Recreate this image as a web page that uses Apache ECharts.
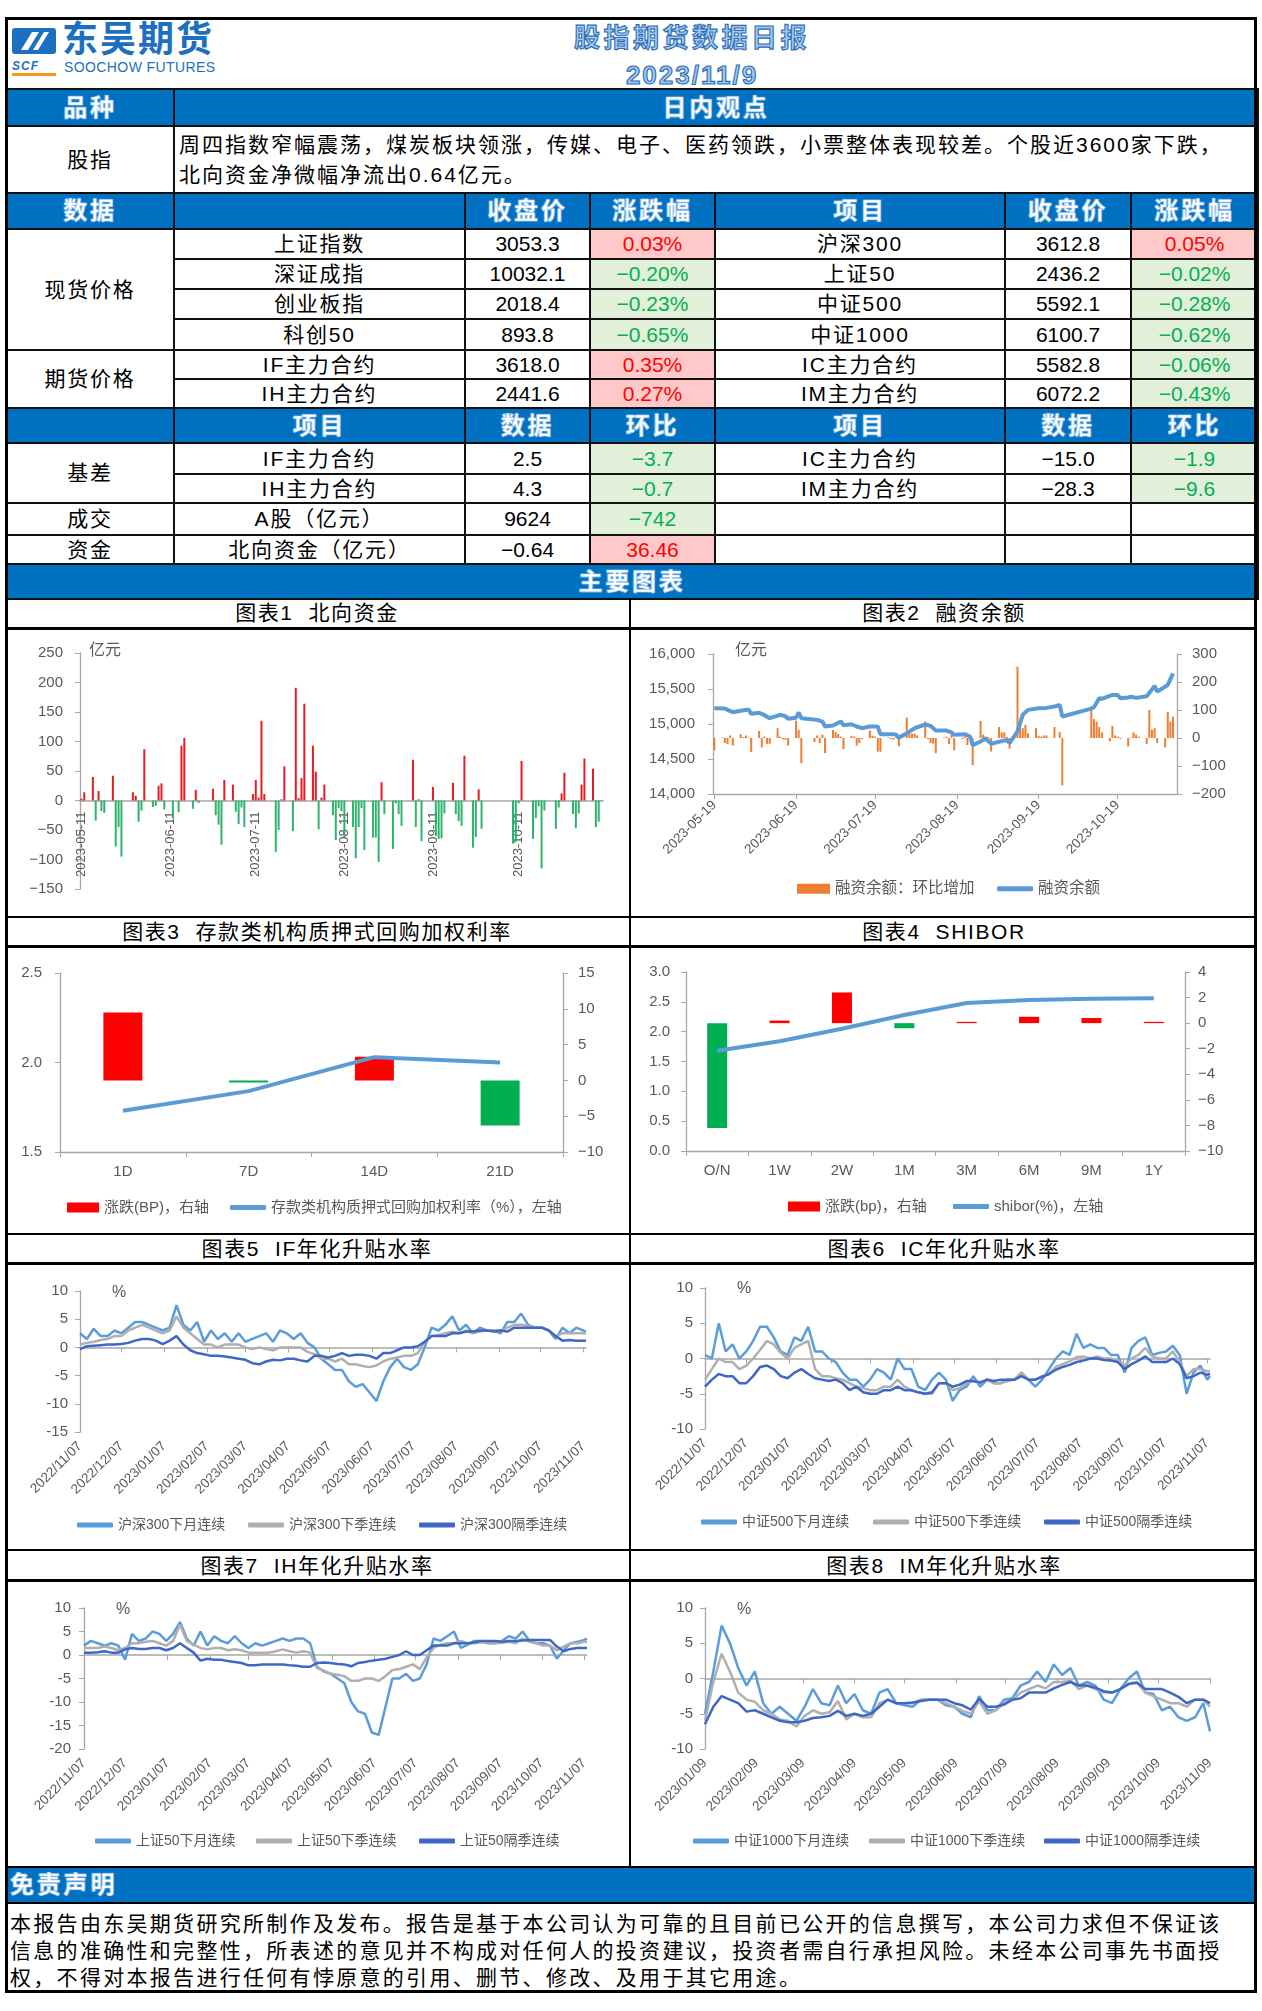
<!DOCTYPE html>
<html lang="zh-CN">
<head>
<meta charset="utf-8">
<title>股指期货数据日报</title>
<script src="https://cdn.jsdelivr.net/npm/echarts@6/dist/echarts.min.js"></script>
<style>
  html, body { margin: 0; padding: 0; background: #fff; }
  #page { position: relative; width: 1262px; height: 2011px; overflow: hidden; background: #fff;
          font-family: "Liberation Sans", "Noto Sans CJK SC", sans-serif; color: #000; }
  .abs { position: absolute; white-space: nowrap; }
  .blk { position: absolute; background: #000; }
  .hdr { color: #fff; font-weight: 700; font-size: 24px; line-height: 26px; letter-spacing: 2.8px;
         -webkit-text-stroke: 0.6px #a9cdee; text-shadow: 0 0 2px #6fb0ea; }
  table { position: absolute; left: 5px; top: 88px; width: 1252px; border-collapse: collapse; table-layout: fixed; }
  td { border: 2px solid #111; padding: 0; text-align: center; vertical-align: middle; white-space: nowrap;
       overflow: hidden; font-size: 21px; line-height: 22px; }
  td.cn { letter-spacing: 1.8px; }
  td.view { text-align: left; padding-left: 4px; letter-spacing: 2px; line-height: 30px; }
  tr.blue td { background: #0070c0; }
  td.up { background: #ffc9c9; color: #ff0000; }
  td.dn { background: #e2f0d9; color: #00b050; }
  .ttl { position: absolute; height: 28px; line-height: 28px; text-align: center; font-size: 21px; letter-spacing: 1.6px; }
  .chart { position: absolute; }
  .title { color: #a3c8ec; font-weight: 700; -webkit-text-stroke: 1.1px #2a6cb6; text-align: center; }
</style>
</head>
<body>
<div id="page">
  <!-- 抬头 -->
  <svg class="abs" style="left:12px;top:28px" width="44" height="26" viewBox="0 0 44 26">
    <rect x="0" y="0" width="44" height="26" rx="3" fill="#1c6fc1"/>
    <path d="M9 22 L20 4 L27 4 L16 22 Z" fill="#fff"/>
    <path d="M21 22 L32 4 L37 4 L26 22 Z" fill="#fff"/>
  </svg>
  <div class="abs" style="left:62px;top:22px;font-size:36px;line-height:36px;font-weight:700;color:#1c6fc1;letter-spacing:2px;">东吴期货</div>
  <div class="abs" style="left:12px;top:60px;font-size:12px;line-height:13px;font-weight:700;font-style:italic;color:#1c6fc1;letter-spacing:1px;">SCF</div>
  <div class="abs" style="left:12px;top:73px;width:44px;height:3px;background:#f39a1e;"></div>
  <div class="abs" style="left:64px;top:60px;font-size:14px;line-height:15px;color:#1c6fc1;letter-spacing:0.4px;">SOOCHOW FUTURES</div>
  <div class="abs title" style="left:492px;top:21px;width:400px;font-size:26px;line-height:34px;letter-spacing:3.5px;">股指期货数据日报</div>
  <div class="abs title" style="left:492px;top:58px;width:400px;font-size:26px;line-height:34px;letter-spacing:2px;">2023/11/9</div>

  <table id="tbl"></table>

  <!-- 主要图表区 -->
  <div class="ttl" style="left:5px;top:599px;width:624px;">图表1&nbsp;&nbsp;北向资金</div>
  <div class="ttl" style="left:631px;top:599px;width:626px;">图表2&nbsp;&nbsp;融资余额</div>
  <div class="ttl" style="left:5px;top:918px;width:624px;">图表3&nbsp;&nbsp;存款类机构质押式回购加权利率</div>
  <div class="ttl" style="left:631px;top:918px;width:626px;">图表4&nbsp;&nbsp;SHIBOR</div>
  <div class="ttl" style="left:5px;top:1235px;width:624px;">图表5&nbsp;&nbsp;IF年化升贴水率</div>
  <div class="ttl" style="left:631px;top:1235px;width:626px;">图表6&nbsp;&nbsp;IC年化升贴水率</div>
  <div class="ttl" style="left:5px;top:1552px;width:624px;">图表7&nbsp;&nbsp;IH年化升贴水率</div>
  <div class="ttl" style="left:631px;top:1552px;width:626px;">图表8&nbsp;&nbsp;IM年化升贴水率</div>

  <div class="chart" id="c1" style="left:8px;top:631px;width:620px;height:285px;"></div>
  <div class="chart" id="c2" style="left:632px;top:631px;width:622px;height:285px;"></div>
  <div class="chart" id="c3" style="left:8px;top:949px;width:620px;height:284px;"></div>
  <div class="chart" id="c4" style="left:632px;top:949px;width:622px;height:284px;"></div>
  <div class="chart" id="c5" style="left:8px;top:1265px;width:620px;height:284px;"></div>
  <div class="chart" id="c6" style="left:632px;top:1265px;width:622px;height:284px;"></div>
  <div class="chart" id="c7" style="left:8px;top:1582px;width:620px;height:284px;"></div>
  <div class="chart" id="c8" style="left:632px;top:1582px;width:622px;height:284px;"></div>

  <div class="blk" style="left:629px;top:598px;width:2px;height:1270px;"></div>
  <div class="blk" style="left:5px;top:627px;width:1252px;height:3px;"></div>
  <div class="blk" style="left:5px;top:916px;width:1252px;height:2px;"></div>
  <div class="blk" style="left:5px;top:945px;width:1252px;height:3px;"></div>
  <div class="blk" style="left:5px;top:1233px;width:1252px;height:2px;"></div>
  <div class="blk" style="left:5px;top:1262px;width:1252px;height:3px;"></div>
  <div class="blk" style="left:5px;top:1549px;width:1252px;height:2px;"></div>
  <div class="blk" style="left:5px;top:1579px;width:1252px;height:3px;"></div>
  <div class="blk" style="left:5px;top:1866px;width:1252px;height:2px;"></div>

  <!-- 免责声明 -->
  <div class="abs" style="left:5px;top:1868px;width:1252px;height:34px;background:#0070c0;"></div>
  <div class="abs hdr" style="left:10px;top:1872px;">免责声明</div>
  <div class="blk" style="left:5px;top:1902px;width:1252px;height:2px;"></div>
  <div class="abs" id="disc" style="left:10px;top:1910px;font-size:21px;line-height:27px;letter-spacing:2.3px;"></div>

  <div class="abs" style="left:5px;top:17px;width:1252px;height:1976px;border:3px solid #000;box-sizing:border-box;"></div>
</div>

<script>
// ---------------- 表格数据 ----------------
const viewLines = ['周四指数窄幅震荡，煤炭板块领涨，传媒、电子、医药领跌，小票整体表现较差。个股近3600家下跌，',
                   '北向资金净微幅净流出0.64亿元。'];
const spotRows = [
    ['上证指数', '3053.3', '0.03%', '沪深300', '3612.8', '0.05%'],
    ['深证成指', '10032.1', '-0.20%', '上证50', '2436.2', '-0.02%'],
    ['创业板指', '2018.4', '-0.23%', '中证500', '5592.1', '-0.28%'],
    ['科创50', '893.8', '-0.65%', '中证1000', '6100.7', '-0.62%']
];
const futRows = [
    ['IF主力合约', '3618.0', '0.35%', 'IC主力合约', '5582.8', '-0.06%'],
    ['IH主力合约', '2441.6', '0.27%', 'IM主力合约', '6072.2', '-0.43%']
];
const basisRows = [
    ['IF主力合约', '2.5', '-3.7', 'IC主力合约', '-15.0', '-1.9'],
    ['IH主力合约', '4.3', '-0.7', 'IM主力合约', '-28.3', '-9.6']
];
const turnoverRow = ['A股（亿元）', '9624', '-742'];
const fundRow = ['北向资金（亿元）', '-0.64', '36.46'];
const disclaimer = ['本报告由东吴期货研究所制作及发布。报告是基于本公司认为可靠的且目前已公开的信息撰写，本公司力求但不保证该',
                    '信息的准确性和完整性，所表述的意见并不构成对任何人的投资建议，投资者需自行承担风险。未经本公司事先书面授',
                    '权，不得对本报告进行任何有悖原意的引用、删节、修改、及用于其它用途。'];

// ---------------- 图表1 北向资金（亿元） ----------------
const northFlow = [
    ['2023-05-11', 3], ['2023-05-12', 14], ['2023-05-15', 40], ['2023-05-16', -34], ['2023-05-17', 16], ['2023-05-18', -18], ['2023-05-19', -21],
    ['2023-05-22', 42], ['2023-05-23', -78], ['2023-05-24', -45], ['2023-05-25', -95],
    ['2023-05-29', 14], ['2023-05-30', 8], ['2023-05-31', -36], ['2023-06-01', -17], ['2023-06-02', 87],
    ['2023-06-05', -11], ['2023-06-06', -9], ['2023-06-07', 25], ['2023-06-08', 29], ['2023-06-09', -15],
    ['2023-06-12', -30], ['2023-06-14', -20], ['2023-06-15', 93], ['2023-06-16', 106],
    ['2023-06-19', -14], ['2023-06-20', 18], ['2023-06-21', -4],
    ['2023-06-26', 20], ['2023-06-27', -25], ['2023-06-28', -41], ['2023-06-29', -75], ['2023-06-30', 35],
    ['2023-07-03', 27], ['2023-07-04', -19], ['2023-07-05', -40], ['2023-07-06', -12], ['2023-07-07', -45],
    ['2023-07-10', 11], ['2023-07-11', 35], ['2023-07-12', 5], ['2023-07-13', 135], ['2023-07-14', 11],
    ['2023-07-18', -87], ['2023-07-19', -50], ['2023-07-20', 2], ['2023-07-21', 58],
    ['2023-07-24', -52], ['2023-07-25', 191], ['2023-07-26', 4], ['2023-07-27', 38], ['2023-07-28', 164],
    ['2023-07-31', 93], ['2023-08-01', 49], ['2023-08-02', -49], ['2023-08-03', 5], ['2023-08-04', 27],
    ['2023-08-07', -25], ['2023-08-08', -67], ['2023-08-09', -13], ['2023-08-10', -18], ['2023-08-11', -62],
    ['2023-08-14', -45], ['2023-08-15', -98], ['2023-08-16', -45], ['2023-08-17', -13], ['2023-08-18', -84],
    ['2023-08-21', -63], ['2023-08-22', -63], ['2023-08-23', -104], ['2023-08-24', 31], ['2023-08-25', -23],
    ['2023-08-28', -82], ['2023-08-29', -5], ['2023-08-30', -23], ['2023-08-31', -43],
    ['2023-09-04', 69], ['2023-09-05', -45], ['2023-09-06', 2], ['2023-09-07', -69],
    ['2023-09-11', 23], ['2023-09-12', -60], ['2023-09-13', -65], ['2023-09-14', -64], ['2023-09-15', -22],
    ['2023-09-18', 30], ['2023-09-19', -23], ['2023-09-20', -35], ['2023-09-21', -43], ['2023-09-22', 76],
    ['2023-09-25', -80], ['2023-09-26', -62], ['2023-09-27', 19], ['2023-09-28', -48],
    ['2023-10-09', -73], ['2023-10-10', -70], ['2023-10-11', -5], ['2023-10-12', 67],
    ['2023-10-16', -65], ['2023-10-17', -30], ['2023-10-18', -10], ['2023-10-19', -115], ['2023-10-20', -17],
    ['2023-10-24', -48], ['2023-10-25', -12], ['2023-10-26', 12], ['2023-10-27', 47],
    ['2023-10-30', -23], ['2023-10-31', -47], ['2023-11-01', -22], ['2023-11-02', 27], ['2023-11-03', 71],
    ['2023-11-06', 54], ['2023-11-07', -45], ['2023-11-08', -36], ['2023-11-09', -0.64]
];

// ---------------- 图表2 融资余额 ----------------
const marginChange = [
    ['2023-05-19', -44], ['2023-05-22', 2], ['2023-05-23', -18], ['2023-05-24', -22], ['2023-05-25', 9], ['2023-05-26', -27],
    ['2023-05-29', 14], ['2023-05-30', 3], ['2023-05-31', 9], ['2023-06-01', 2], ['2023-06-02', -50],
    ['2023-06-05', 25], ['2023-06-06', -34], ['2023-06-07', 5], ['2023-06-08', -21], ['2023-06-09', -21],
    ['2023-06-12', 35], ['2023-06-13', 5], ['2023-06-14', -4], ['2023-06-15', -6], ['2023-06-16', -27],
    ['2023-06-19', 62], ['2023-06-20', 29], ['2023-06-21', -90],
    ['2023-06-26', -15], ['2023-06-27', 9], ['2023-06-28', -18], ['2023-06-29', 12], ['2023-06-30', -54],
    ['2023-07-03', 29], ['2023-07-04', 21], ['2023-07-05', 14], ['2023-07-06', 5], ['2023-07-07', -40],
    ['2023-07-10', 8], ['2023-07-11', 5], ['2023-07-12', -27], ['2023-07-13', -18], ['2023-07-14', -4],
    ['2023-07-17', 27], ['2023-07-18', 8], ['2023-07-19', 5], ['2023-07-20', -49], ['2023-07-21', -49],
    ['2023-07-24', 2], ['2023-07-25', -4], ['2023-07-26', -6], ['2023-07-27', 5], ['2023-07-28', -30],
    ['2023-07-31', 73], ['2023-08-01', 17], ['2023-08-02', 15], ['2023-08-03', 15], ['2023-08-04', 9],
    ['2023-08-07', 59], ['2023-08-08', -4], ['2023-08-09', -18], ['2023-08-10', -20], ['2023-08-11', -54],
    ['2023-08-14', 2], ['2023-08-15', 5], ['2023-08-16', -22], ['2023-08-17', 12], ['2023-08-18', -44],
    ['2023-08-21', -4], ['2023-08-22', 5], ['2023-08-23', -25], ['2023-08-24', 2], ['2023-08-25', -97],
    ['2023-08-28', 61], ['2023-08-29', 12], ['2023-08-30', 5], ['2023-08-31', 3], ['2023-09-01', -48],
    ['2023-09-04', 39], ['2023-09-05', 20], ['2023-09-06', 20], ['2023-09-07', 4], ['2023-09-08', -38],
    ['2023-09-11', 255], ['2023-09-12', 47], ['2023-09-13', 35], ['2023-09-14', 47], ['2023-09-15', 17],
    ['2023-09-18', 35], ['2023-09-19', 8], ['2023-09-20', 5], ['2023-09-21', 9], ['2023-09-22', 9],
    ['2023-09-25', 39], ['2023-09-26', 0], ['2023-09-27', 21], ['2023-09-28', -169],
    ['2023-10-09', 100], ['2023-10-10', 68], ['2023-10-11', 58], ['2023-10-12', 39], ['2023-10-13', 20],
    ['2023-10-16', -12], ['2023-10-17', 43], ['2023-10-18', 9], ['2023-10-19', 5], ['2023-10-20', -4],
    ['2023-10-23', -30], ['2023-10-24', 2], ['2023-10-25', 20], ['2023-10-26', 12], ['2023-10-27', 5],
    ['2023-10-30', -22], ['2023-10-31', 100], ['2023-11-01', 30], ['2023-11-02', 35], ['2023-11-03', -18],
    ['2023-11-06', -34], ['2023-11-07', 93], ['2023-11-08', 58], ['2023-11-09', 76]
];
const marginBalance = [
    ['2023-05-19', 15226], ['2023-05-23', 15221], ['2023-05-24', 15202], ['2023-05-26', 15169], ['2023-05-29', 15188],
    ['2023-06-01', 15207], ['2023-06-02', 15145], ['2023-06-05', 15160], ['2023-06-07', 15126], ['2023-06-09', 15083],
    ['2023-06-13', 15130], ['2023-06-15', 15110], ['2023-06-16', 15075], ['2023-06-19', 15090], ['2023-06-20', 15164],
    ['2023-06-21', 15083], ['2023-06-27', 15059], ['2023-06-29', 15035], ['2023-06-30', 14964], ['2023-07-03', 14978],
    ['2023-07-06', 15036], ['2023-07-07', 14983], ['2023-07-10', 14997], ['2023-07-12', 14964], ['2023-07-14', 14940],
    ['2023-07-17', 14964], ['2023-07-20', 14964], ['2023-07-21', 14855], ['2023-07-26', 14855], ['2023-07-27', 14845],
    ['2023-07-28', 14803], ['2023-07-31', 14869], ['2023-08-03', 14940], ['2023-08-07', 14993], ['2023-08-09', 14974],
    ['2023-08-11', 14907], ['2023-08-15', 14907], ['2023-08-17', 14880], ['2023-08-18', 14845], ['2023-08-22', 14855],
    ['2023-08-24', 14822], ['2023-08-25', 14698], ['2023-08-28', 14750], ['2023-08-30', 14793], ['2023-09-01', 14717],
    ['2023-09-07', 14774], ['2023-09-08', 14727], ['2023-09-11', 14893], ['2023-09-13', 15131], ['2023-09-15', 15202],
    ['2023-09-19', 15226], ['2023-09-22', 15230], ['2023-09-25', 15249], ['2023-09-27', 15273], ['2023-09-28', 15107],
    ['2023-10-09', 15220], ['2023-10-10', 15240], ['2023-10-12', 15368], ['2023-10-13', 15360], ['2023-10-17', 15416],
    ['2023-10-19', 15416], ['2023-10-20', 15368], ['2023-10-23', 15380], ['2023-10-24', 15390], ['2023-10-26', 15373],
    ['2023-10-30', 15395], ['2023-11-02', 15544], ['2023-11-03', 15463], ['2023-11-07', 15558], ['2023-11-09', 15724]
];

// ---------------- 图表3 存款类机构质押式回购加权利率 ----------------
const repoTerms = ['1D', '7D', '14D', '21D'];
const repoChangeBP = [9.5, -0.3, 3.3, -6.3];
const repoRate = [1.73, 1.84, 2.03, 2.00];

// ---------------- 图表4 SHIBOR ----------------
const shiborTerms = ['O/N', '1W', '2W', '1M', '3M', '6M', '9M', '1Y'];
const shiborChangeBP = [-8.2, 0.2, 2.4, -0.4, 0.1, 0.5, 0.4, 0.1];
const shiborRate = [1.68, 1.84, 2.05, 2.28, 2.48, 2.53, 2.55, 2.56];

// ---------------- 图表5-7 年化升贴水率（2022/11/07 - 2023/11/09） ----------------
const basisDates = ['2022/11/07', '2022/11/12', '2022/11/17', '2022/11/22', '2022/11/27', '2022/12/02', '2022/12/07', '2022/12/12',
    '2022/12/17', '2022/12/22', '2022/12/27', '2023/01/01', '2023/01/06', '2023/01/11', '2023/01/16', '2023/01/21', '2023/01/26',
    '2023/01/31', '2023/02/05', '2023/02/10', '2023/02/15', '2023/02/20', '2023/02/25', '2023/03/02', '2023/03/07', '2023/03/12',
    '2023/03/17', '2023/03/22', '2023/03/27', '2023/04/01', '2023/04/06', '2023/04/11', '2023/04/16', '2023/04/21', '2023/04/26',
    '2023/05/01', '2023/05/06', '2023/05/11', '2023/05/16', '2023/05/21', '2023/05/26', '2023/05/31', '2023/06/05', '2023/06/10',
    '2023/06/15', '2023/06/20', '2023/06/25', '2023/06/30', '2023/07/05', '2023/07/10', '2023/07/15', '2023/07/20', '2023/07/25',
    '2023/07/30', '2023/08/04', '2023/08/09', '2023/08/14', '2023/08/19', '2023/08/24', '2023/08/29', '2023/09/03', '2023/09/08',
    '2023/09/13', '2023/09/18', '2023/09/23', '2023/09/28', '2023/10/03', '2023/10/08', '2023/10/13', '2023/10/18', '2023/10/23',
    '2023/10/28', '2023/11/02', '2023/11/07', '2023/11/09'];

const ifNextMonth = [2.5, 1.5, 3.3, 2.0, 2.0, 3.0, 2.5, 3.5, 4.5, 4.5, 4.0, 3.5, 3.0, 3.5, 7.5, 4.0, 3.0, 4.5, 1.0, 3.0,
    1.5, 2.5, 1.0, 2.5, 1.0, 1.5, 2.0, 2.5, 1.0, 3.0, 2.5, 1.5, 2.5, 0.8, 0.0, -2.0, -3.0, -4.0, -4.0, -6.0,
    -7.0, -6.5, -8.0, -9.5, -6.0, -3.5, -2.0, -3.5, -4.0, -3.0, 0.0, 3.5, 3.0, 4.0, 5.5, 3.0, 4.0, 2.5, 3.5, 3.0,
    3.0, 2.5, 4.5, 4.5, 6.0, 4.0, 3.5, 3.5, 3.0, 1.5, 3.5, 2.5, 3.5, 3.0, 2.8];
const ifNextQuarter = [0.5, 0.8, 1.0, 1.3, 1.5, 2.0, 2.0, 3.0, 3.5, 4.0, 3.5, 3.0, 2.5, 3.0, 5.5, 3.5, 2.5, 1.5, 0.5, 0.5,
    0.0, 0.5, 0.5, 0.5, 0.0, -0.3, 0.0, -0.3, -0.5, 0.0, 0.0, 0.0, 0.0, -0.8, -1.2, -2.0, -2.0, -2.5, -2.0, -3.0,
    -3.0, -3.3, -3.5, -3.2, -2.5, -2.0, -1.8, -1.5, -1.5, -1.0, 1.0, 2.0, 2.2, 2.5, 2.8, 2.5, 3.0, 2.5, 2.8, 3.0,
    3.0, 3.0, 3.5, 4.0, 4.0, 3.8, 3.5, 3.5, 3.0, 2.0, 2.5, 2.5, 2.5, 2.5, 2.5];
const ifFarQuarter = [-0.3, 0.2, 0.3, 0.4, 0.5, 0.5, 0.6, 0.8, 1.2, 1.5, 1.5, 1.2, 0.6, 1.2, 2.0, 0.5, -0.5, -1.0, -1.2, -1.5,
    -1.5, -1.6, -1.8, -2.0, -2.2, -2.8, -3.0, -2.5, -2.2, -2.3, -2.0, -2.0, -2.3, -2.5, -1.5, -1.5, -1.8, -1.5, -1.0, -1.5,
    -1.3, -1.3, -1.5, -2.0, -1.0, -1.0, -0.5, 0.0, 0.0, 0.2, 1.0, 2.0, 2.0, 2.0, 2.5, 2.5, 2.8, 2.8, 3.0, 3.0,
    2.8, 3.0, 2.8, 3.5, 3.5, 3.5, 3.5, 3.5, 3.0, 2.0, 1.2, 1.3, 1.2, 1.2, 1.2];

const icNextMonth = [0.5, 0, 5, 1, 2, 0, 1, 2.5, 4.5, 4.5, 3, 1, 0.5, 3, 2.5, 4.5, 1, 1, 0, -0.5,
    -2, -3, -3, -4, -3, -1.5, -2, -3, 0, -1.5, -1.5, -4, -4.5, -3, -2, -3, -6, -4.5, -4, -2.5,
    -4, -3, -3.5, -3.5, -3, -3, -2, -3, -4, -3, -1.5, 0, 1, 0.5, 3.5, 1.5, 2, 1.5, 1.5, 0.5,
    0.5, -2, 1.5, 2.5, 3, 0.5, 0.8, 1, 1.8, 0.5, -5, -2, -1, -3, -2.5];
const icNextQuarter = [-3, -1.5, 0, -0.5, -0.5, -1.5, -1, 0, 1.2, 2.5, 2, 0.8, 0, 1.5, 2, 2.5, -1.5, -2.5, -2.5, -2.8,
    -3, -3.5, -4, -4.2, -4.5, -4.5, -4, -4, -3, -4, -4.5, -4.8, -5, -5, -3.5, -3.5, -4.5, -4.2, -3.5, -3.2,
    -3.5, -3, -3.5, -3.5, -3.2, -3, -2, -3, -3, -2.5, -2.2, -1.2, -0.8, -0.4, 0.2, 0.3, 0, 0.3, 0, 0,
    -0.3, -1, 0, 0.5, 1.5, 0.3, 0, 0, 1, -0.5, -2.5, -1.5, -1.5, -1.8, -1.8];
const icFarQuarter = [-4, -3, -2.2, -2.5, -2.5, -3.5, -3.5, -2.5, -1.2, -1, -1.5, -2.5, -2.8, -2, -1.5, -2.2, -2.8, -3, -3.2, -3,
    -3.5, -4.5, -4, -4.8, -5, -5, -4.5, -4.5, -4, -4.5, -4.5, -4.8, -5, -4.8, -3.5, -3.5, -4, -3.7, -3.2, -3.2,
    -3.4, -3, -3.2, -3, -3, -3, -2.5, -3, -3, -2.6, -2.2, -1.6, -1.2, -0.9, -0.5, -0.3, 0, 0, -0.2, -0.3,
    -0.5, -1.5, -0.8, -0.3, 0.3, -0.5, -0.5, -0.5, 0, -0.8, -2.8, -2.5, -2, -2.3, -2.2];

const ihNextMonth = [2, 3, 2.5, 2, 2.5, 2, -1, 4.5, 3, 3.5, 5, 4.5, 3, 4.5, 7, 3.5, 2, 5, 2, 4,
    3, 2.5, 4, 2.5, 1.5, 2.5, 2, 2.5, 3, 3.5, 3, 3.5, 3.5, 2.5, -2.5, -3.5, -4, -5, -6, -10,
    -12, -12.5, -16.5, -17, -11, -5, -5, -4, -5.5, -5, -2, 3.5, 3, 4, 5, 1.5, 2.2, 3, 3, 2.5,
    2.5, 3, 4, 3.5, 5, 3, 2.5, 2.5, 2, -0.8, 1, 2.5, 2.8, 3.2, 3.5];
const ihNextQuarter = [1.5, 1.5, 1.5, 1.8, 1.5, 1, 1.5, 2.5, 2.5, 2.8, 3, 2.5, 2, 3, 6.5, 3, 2.2, 1.5, 1.2, 1.5,
    1.5, 1, 1.2, 1, 0.5, 0.5, 0.5, 0.5, 0.8, 1.2, 0.8, 0.5, 0.8, 0.5, -2.8, -3.3, -4, -4.2, -4.5, -5.5,
    -5.5, -5, -5, -5.5, -4.5, -3.2, -3, -2.5, -2, -3, -0.5, 1.5, 2.2, 2.5, 2.5, 3, 2.5, 2.5, 2.7, 2.5,
    2.5, 2.6, 2.8, 2.5, 3.5, 2.8, 2.5, 2, 2, 1, 1.8, 2.5, 2.5, 2.8, 2.8];
const ihFarQuarter = [0.5, 0.5, 0.6, 0.8, 0.5, 0.5, 1.2, 1.5, 1.3, 1.3, 1.5, 1.5, 1, 1.5, 2.5, 1.5, 0.5, -1.2, -0.8, -1,
    -1, -1.3, -1.5, -1.7, -2.2, -2.2, -2, -2, -2, -2, -2.2, -2.3, -2.5, -2.5, -1.7, -1.6, -1.7, -1.9, -2, -2.4,
    -1.7, -1.5, -1.2, -1, -0.8, -0.4, 0, 0.8, 0, 0, 1, 2, 2, 2, 2.5, 2.5, 2.5, 2.7, 3, 3,
    3, 2.8, 3, 3, 3.1, 3.2, 3.2, 3.2, 3.2, 1.8, 0.8, 1.3, 1.5, 1.5, 1.5];

// ---------------- 图表8 IM年化升贴水率（2023/01/09 - 2023/11/09） ----------------
const imDates = ['2023/01/09', '2023/01/14', '2023/01/19', '2023/01/24', '2023/01/29', '2023/02/03', '2023/02/08', '2023/02/13',
    '2023/02/18', '2023/02/23', '2023/02/28', '2023/03/05', '2023/03/10', '2023/03/15', '2023/03/20', '2023/03/25', '2023/03/30',
    '2023/04/04', '2023/04/09', '2023/04/14', '2023/04/19', '2023/04/24', '2023/04/29', '2023/05/04', '2023/05/09', '2023/05/14',
    '2023/05/19', '2023/05/24', '2023/05/29', '2023/06/03', '2023/06/08', '2023/06/13', '2023/06/18', '2023/06/23', '2023/06/28',
    '2023/07/03', '2023/07/08', '2023/07/13', '2023/07/18', '2023/07/23', '2023/07/28', '2023/08/02', '2023/08/07', '2023/08/12',
    '2023/08/17', '2023/08/22', '2023/08/27', '2023/09/01', '2023/09/06', '2023/09/11', '2023/09/16', '2023/09/21', '2023/09/26',
    '2023/10/01', '2023/10/06', '2023/10/11', '2023/10/16', '2023/10/21', '2023/10/26', '2023/10/31', '2023/11/05', '2023/11/09'];
const imNextMonth = [-5, 1, 7.5, 5, 1.5, -1, 1, -3.5, -5, -4, -5, -6, -4, -1.5, -3.5, -3.8, -1, -3.5, -2.2, -4.5,
    -5, -2, -1.5, -3.5, -3.8, -4, -3, -3, -3, -3.8, -4, -5, -5.5, -2.5, -4.5, -4.5, -3, -2.8, -1, -0.5,
    1, -0.5, 2, 0.5, 1.5, -1, -0.5, -1, -3, -3.5, -1.5, 0, 1, -2, -2.2, -4.5, -4, -5.5, -6, -5.5, -3.5, -7.5];
const imNextQuarter = [-6, -0.5, 3.5, 1, -2, -3, -3.3, -4.5, -5, -5.8, -6, -6.8, -5.3, -4.5, -5, -4.8, -3.2, -5.8, -5, -5.5,
    -5.5, -3.5, -3, -3.5, -3.5, -3.5, -3, -3, -3, -3.5, -4, -4.6, -5, -3.2, -5, -4.5, -3.5, -3, -2, -1.5,
    -1, -1.4, -0.5, -0.5, -0.3, -1.5, -1, -1.5, -2, -2, -1.5, -0.7, -0.5, -2, -2.5, -3, -3.5, -3.5, -4, -3, -3, -4];
const imFarQuarter = [-6.5, -4, -2.5, -3, -3.5, -4.7, -4.5, -5, -5.5, -6, -6.2, -6.2, -6, -5.6, -5.5, -5.3, -4.6, -5.3, -5, -5.3,
    -5, -4, -3, -3.5, -3.5, -3.4, -3.2, -3, -3, -3, -3.5, -3.8, -4.4, -2.9, -4, -4, -3.7, -3, -2.8, -2,
    -2, -2, -1.4, -0.9, -0.5, -1, -1, -1.3, -1.8, -2, -1.5, -0.8, -0.6, -1.5, -1.5, -1.5, -2, -2.6, -3.5, -3, -3, -3.5];

// ---------------- 表格 ----------------
const rowH = [37, 67, 36, 30, 30, 30, 31, 29, 29, 35, 31, 29, 32, 29, 35];
let rowNo = 0;
const neg = s => s.replace('-', '−');
const tr = (cls, inner) => `<tr class="${cls}" style="height:${rowH[rowNo++]}px">${inner}</tr>`;
const hc = t => `<td><span class="hdr">${t}</span></td>`;
const chg = s => `<td class="${s.startsWith('-') ? 'dn' : 'up'}">${neg(s)}</td>`;
const dataRow = (r, lead) => tr('', (lead || '') + `<td class="cn">${r[0]}</td><td>${neg(r[1])}</td>${chg(r[2])}` +
    `<td class="cn">${r[3]}</td><td>${neg(r[4])}</td>${chg(r[5])}`);

let html = '<colgroup><col style="width:168px"><col style="width:291px"><col style="width:125px"><col style="width:125px">' +
    '<col style="width:290px"><col style="width:126px"><col style="width:127px"></colgroup>';
html += tr('blue', hc('品种') + '<td colspan="6"><span class="hdr">日内观点</span></td>');
html += tr('', `<td class="cn">股指</td><td colspan="6" class="view">${viewLines.join('<br>')}</td>`);
html += tr('blue', ['数据', '', '收盘价', '涨跌幅', '项目', '收盘价', '涨跌幅'].map(hc).join(''));
spotRows.forEach((r, i) => { html += dataRow(r, i === 0 ? '<td rowspan="4" class="cn">现货价格</td>' : ''); });
futRows.forEach((r, i) => { html += dataRow(r, i === 0 ? '<td rowspan="2" class="cn">期货价格</td>' : ''); });
html += tr('blue', ['', '项目', '数据', '环比', '项目', '数据', '环比'].map(hc).join(''));
basisRows.forEach((r, i) => { html += dataRow(r, i === 0 ? '<td rowspan="2" class="cn">基差</td>' : ''); });
html += tr('', `<td class="cn">成交</td><td class="cn">${turnoverRow[0]}</td><td>${neg(turnoverRow[1])}</td>${chg(turnoverRow[2])}<td></td><td></td><td></td>`);
html += tr('', `<td class="cn">资金</td><td class="cn">${fundRow[0]}</td><td>${neg(fundRow[1])}</td>${chg(fundRow[2])}<td></td><td></td><td></td>`);
html += tr('blue', '<td colspan="7"><span class="hdr">主要图表</span></td>');
document.getElementById('tbl').innerHTML = html;
document.getElementById('disc').innerHTML = disclaimer.join('<br>');

// ---------------- 图表 ----------------
const FONT = '"Liberation Sans", "Noto Sans CJK SC", sans-serif';
const GRAY = '#595959';
const AXIS_C = '#a6a6a6';
const LINE_COLORS = ['#5a9ddb', '#afafaf', '#3f67c6'];

// 日历日序列（作为类目轴）
function dayAxis(start, end, sep) {
    const out = [];
    const d = new Date(start + 'T00:00:00Z');
    const e = new Date(end + 'T00:00:00Z');
    while (d <= e) {
        const m = String(d.getUTCMonth() + 1).padStart(2, '0');
        const dd = String(d.getUTCDate()).padStart(2, '0');
        out.push(d.getUTCFullYear() + sep + m + sep + dd);
        d.setUTCDate(d.getUTCDate() + 1);
    }
    return out;
}
const minus = v => String(v).replace('-', '−');
const valueAxis = (extra) => Object.assign({
    type: 'value', splitLine: {show: false},
    axisLine: {show: true, lineStyle: {color: AXIS_C, width: 1.3}},
    axisTick: {show: true, length: 5, lineStyle: {color: AXIS_C}},
    axisLabel: {fontSize: 15, color: GRAY, fontFamily: FONT}
}, extra);
const legendAt = (name, left, top, w, h, icon, fs) => ({
    data: [{name: name, icon: icon}], left: left, top: top, itemWidth: w, itemHeight: h, itemGap: 0,
    textStyle: {fontSize: fs, color: GRAY, fontFamily: FONT}
});
function mk(id, opt) {
    const c = echarts.init(document.getElementById(id), null, {renderer: 'canvas'});
    c.setOption(Object.assign({animation: false, textStyle: {fontFamily: FONT}}, opt));
}

// 图表1：标签画在图内底部，零轴另用一根类目轴
const nbAxis = dayAxis('2023-05-11', '2023-11-09', '-');
mk('c1', {
    grid: {left: 72, right: 25, top: 22, bottom: 27, outerBoundsMode: 'none'},
    graphic: [{type: 'text', left: 81, top: 12, style: {text: '亿元', fontSize: 16, fill: GRAY, fontFamily: FONT}}],
    xAxis: [
        {type: 'category', data: nbAxis, position: 'bottom',
         axisLine: {show: false, onZero: false}, axisTick: {show: false},
         axisLabel: {interval: (i, v) => v.endsWith('-11'), rotate: 90, inside: true, fontSize: 13, color: GRAY, margin: 12}},
        {type: 'category', data: nbAxis, position: 'bottom',
         axisLine: {show: true, onZero: true, lineStyle: {color: AXIS_C, width: 1.5}},
         axisTick: {show: false}, axisLabel: {show: false}}
    ],
    yAxis: valueAxis({min: -150, max: 250, interval: 50, axisLabel: {fontSize: 15, color: GRAY, margin: 17, formatter: minus}}),
    series: [{
        type: 'bar', barWidth: 2, xAxisIndex: 0,
        data: northFlow.map(p => ({value: [nbAxis.indexOf(p[0]), p[1]], itemStyle: {color: p[1] >= 0 ? '#e51c23' : '#2eb36c'}}))
    }]
});

// 图表2
const mgAxis = dayAxis('2023-05-19', '2023-11-10', '-');
const mgTick = (i, v) => v.endsWith('-19');
mk('c2', {
    grid: {left: 81, right: 77, top: 23, bottom: 122, outerBoundsMode: 'none'},
    graphic: [{type: 'text', left: 103, top: 12, style: {text: '亿元', fontSize: 16, fill: GRAY, fontFamily: FONT}}],
    legend: [legendAt('融资余额：环比增加', 160, 245, 33, 10, 'rect', 15.5), legendAt('融资余额', 360, 245, 36, 5, 'roundRect', 15.5)],
    xAxis: {
        type: 'category', data: mgAxis,
        axisLine: {show: true, onZero: false, lineStyle: {color: AXIS_C, width: 1.3}},
        axisTick: {show: true, interval: mgTick, alignWithLabel: true, length: 5, lineStyle: {color: AXIS_C}},
        axisLabel: {interval: mgTick, rotate: 45, fontSize: 13.5, color: GRAY, margin: 9}
    },
    yAxis: [
        valueAxis({min: 14000, max: 16000, interval: 500, axisLabel: {fontSize: 15, color: GRAY, margin: 18, formatter: v => v.toLocaleString('en-US')}}),
        valueAxis({min: -200, max: 300, interval: 100, position: 'right', axisLabel: {fontSize: 15, color: GRAY, margin: 15, formatter: minus}})
    ],
    series: [
        {name: '融资余额：环比增加', type: 'bar', yAxisIndex: 1, barWidth: 2, itemStyle: {color: '#ed7d31'},
         data: marginChange.map(p => [mgAxis.indexOf(p[0]), p[1]])},
        {name: '融资余额', type: 'line', yAxisIndex: 0, symbol: 'none', showSymbol: false,
         lineStyle: {width: 4, color: '#5b9bd5'}, itemStyle: {color: '#5b9bd5'},
         data: marginBalance.map(p => [mgAxis.indexOf(p[0]), p[1]])}
    ]
});

// 图表3、图表4
function rateOption(cats, bp, rate, g, leftAx, rightAx, barW, names, legPos) {
    return {
        grid: Object.assign({outerBoundsMode: 'none'}, g),
        legend: [legendAt(names[0], legPos[0], legPos[2], 32, 10, 'rect', 15), legendAt(names[1], legPos[1], legPos[2], 36, 5, 'roundRect', 15)],
        xAxis: {
            type: 'category', data: cats,
            axisLine: {show: true, onZero: false, lineStyle: {color: AXIS_C, width: 1.3}},
            axisTick: {show: true, length: 5, lineStyle: {color: AXIS_C}},
            axisLabel: {fontSize: 15, color: GRAY, margin: 12}
        },
        yAxis: [valueAxis(leftAx), valueAxis(Object.assign({position: 'right'}, rightAx))],
        series: [
            {name: names[0], type: 'bar', yAxisIndex: 1, barWidth: barW, itemStyle: {color: '#ff0000'},
             data: bp.map(v => ({value: v, itemStyle: {color: v >= 0 ? '#ff0000' : '#00b050'}}))},
            {name: names[1], type: 'line', yAxisIndex: 0, symbol: 'none', showSymbol: false,
             lineStyle: {width: 4, color: '#5b9bd5'}, itemStyle: {color: '#5b9bd5'}, data: rate}
        ]
    };
}
mk('c3', rateOption(repoTerms, repoChangeBP, repoRate, {left: 52, right: 65, top: 24, bottom: 81},
    {min: 1.5, max: 2.5, interval: 0.5, axisLabel: {fontSize: 15, color: GRAY, margin: 18, formatter: v => v.toFixed(1)}},
    {min: -10, max: 15, interval: 5, axisLabel: {fontSize: 15, color: GRAY, margin: 15, formatter: minus}},
    39, ['涨跌(BP)，右轴', '存款类机构质押式回购加权利率（%），左轴'], [54, 217, 246]));
mk('c4', rateOption(shiborTerms, shiborChangeBP, shiborRate, {left: 54, right: 69, top: 23, bottom: 82},
    {min: 0, max: 3, interval: 0.5, axisLabel: {fontSize: 15, color: GRAY, margin: 16, formatter: v => v.toFixed(1)}},
    {min: -10, max: 4, interval: 2, axisLabel: {fontSize: 15, color: GRAY, margin: 13, formatter: minus}},
    20, ['涨跌(bp)，右轴', 'shibor(%)，左轴'], [151, 316, 245]));

// 图表5-8
function basisOption(axisDays, sampleDays, lines, names, yMin, yMax, tickDay, g, pct, legLefts, legTop, labelMargin) {
    const idx = sampleDays.map(d => axisDays.indexOf(d));
    const isTick = (i, v) => v.endsWith(tickDay);
    return {
        grid: Object.assign({outerBoundsMode: 'none'}, g),
        graphic: [{type: 'text', left: pct[0], top: pct[1], style: {text: '%', fontSize: 16, fill: GRAY, fontFamily: FONT}}],
        legend: names.map((n, k) => legendAt(n, legLefts[k], legTop, 36, 5, 'roundRect', 14)),
        xAxis: [
            {type: 'category', data: axisDays, boundaryGap: false, position: 'bottom',
             axisLine: {show: false, onZero: false}, axisTick: {show: false}, splitLine: {show: false},
             axisLabel: {interval: isTick, rotate: 45, fontSize: 13.5, color: GRAY, margin: 12}},
            {type: 'category', data: axisDays, boundaryGap: false, position: 'bottom',
             axisLine: {show: true, onZero: true, lineStyle: {color: AXIS_C, width: 1.5}},
             axisTick: {show: true, interval: isTick, length: 5, lineStyle: {color: AXIS_C}},
             axisLabel: {show: false}, splitLine: {show: false}}
        ],
        yAxis: valueAxis({min: yMin, max: yMax, interval: 5, axisLabel: {fontSize: 15, color: GRAY, margin: labelMargin}}),
        series: lines.map((vals, k) => ({
            name: names[k], type: 'line', xAxisIndex: 0, symbol: 'none', showSymbol: false,
            lineStyle: {width: 2.5, color: LINE_COLORS[k]}, itemStyle: {color: LINE_COLORS[k]},
            data: idx.map((x, i) => [x, vals[i]])
        }))
    };
}
const yearAxis = dayAxis('2022-11-07', '2023-11-09', '/');
const imAxis = dayAxis('2023-01-09', '2023-11-09', '/');
mk('c5', basisOption(yearAxis, basisDates, [ifNextMonth, ifNextQuarter, ifFarQuarter],
    ['沪深300下月连续', '沪深300下季连续', '沪深300隔季连续'], -15, 10, '/07',
    {left: 72, right: 42, top: 26, bottom: 117}, [104, 20], [64, 235, 406], 248, 12));
mk('c6', basisOption(yearAxis, basisDates, [icNextMonth, icNextQuarter, icFarQuarter],
    ['中证500下月连续', '中证500下季连续', '中证500隔季连续'], -10, 10, '/07',
    {left: 73, right: 44, top: 23, bottom: 120}, [105, 16], [64, 236, 407], 245, 12));
mk('c7', basisOption(yearAxis, basisDates, [ihNextMonth, ihNextQuarter, ihFarQuarter],
    ['上证50下月连续', '上证50下季连续', '上证50隔季连续'], -20, 10, '/07',
    {left: 76, right: 41, top: 26, bottom: 117}, [108, 20], [82, 243, 406], 247, 13));
mk('c8', basisOption(imAxis, imDates, [imNextMonth, imNextQuarter, imFarQuarter],
    ['中证1000下月连续', '中证1000下季连续', '中证1000隔季连续'], -10, 10, '/09',
    {left: 73, right: 44, top: 26, bottom: 117}, [105, 20], [56, 232, 407], 247, 12));
</script>
</body>
</html>
